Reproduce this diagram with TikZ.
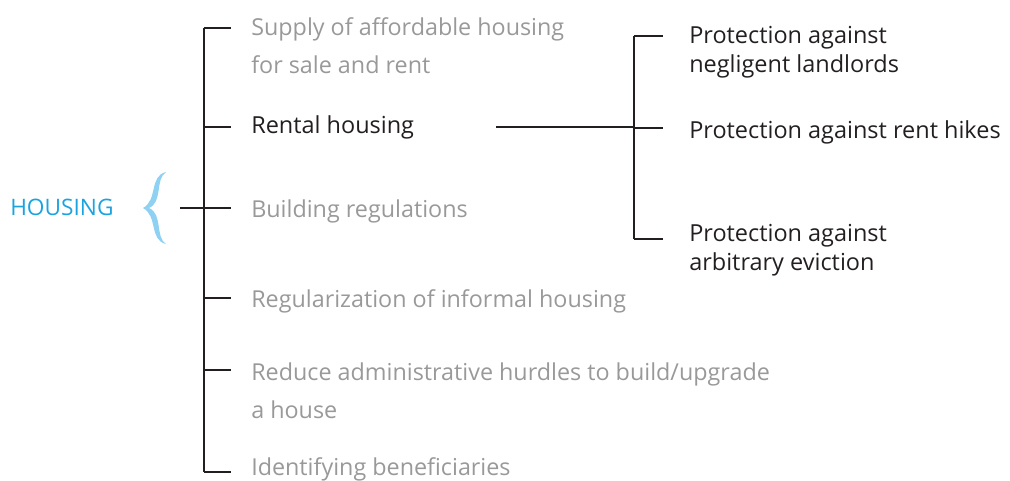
\documentclass[tikz,border=0pt]{standalone}
\usepackage{fontspec}
\setmainfont{Open Sans}
\definecolor{inkdark}{HTML}{231F20}
\definecolor{inkgray}{HTML}{999999}
\definecolor{housblue}{HTML}{1AA3E0}
\definecolor{bracelight}{HTML}{8ED1F2}
\tikzset{
  trunk/.style={draw=inkdark,line width=1.8pt},
  grayitem/.style={anchor=base west,inner sep=0pt,align=left,text=inkgray,
    font=\fontsize{17.5}{28.5}\selectfont},
  darkitem/.style={anchor=base west,inner sep=0pt,align=left,text=inkdark,
    font=\fontsize{17.6}{21.75}\selectfont}
}

\begin{document}
\begin{tikzpicture}[x=0.75pt,y=-0.75pt]
\useasboundingbox (0,0) rectangle (1010,480);
% title and brace
\node[anchor=base west,inner sep=0pt,text=housblue,font=\fontsize{17}{20}\selectfont] (housing) at (10,215) {HOUSING};
\fill[bracelight] (166,172) .. controls (149,176) and (158,200) .. (143,208)
  .. controls (158,216) and (149,240) .. (166,244)
  .. controls (155,237) and (163,214) .. (149,208)
  .. controls (163,202) and (155,179) .. (166,172) -- cycle;
% main trunk
\coordinate (stem) at (180,208);
\coordinate (ttop) at (204,28);
\coordinate (tbot) at (204,472);
\draw[trunk] (ttop) -- (tbot);
\draw[trunk] (stem) -- (231,208);
\foreach \y [count=\i] in {28,127,208,298,370,472}{
  \coordinate (t\i) at (204,\y);
  \coordinate (b\i) at (231,\y);
  \draw[trunk] (t\i) -- (b\i);
}
% first level items (base = last line)
\node[grayitem] (supply) at (251,73) {Supply of affordable housing\\for sale and rent};
\node[darkitem] (rental) at (251,133) {Rental housing};
\node[grayitem] (building) at (251,217) {Building regulations};
\node[grayitem] (regular) at (251,307) {Regularization of informal housing};
\node[grayitem] (reduce) at (251,418) {Reduce administrative hurdles to build/upgrade\\a house};
\node[grayitem] (identify) at (251,475) {Identifying beneficiaries};
% rental housing branch
\coordinate (rstart) at (496,127);
\coordinate (rtop) at (634,36);
\coordinate (rbot) at (634,239);
\draw[trunk] (rstart) -- (634,127);
\draw[trunk] (rtop) -- (rbot);
\foreach \y [count=\i] in {36,128,239}{
  \coordinate (r\i) at (634,\y);
  \coordinate (q\i) at (663,\y);
  \draw[trunk] (r\i) -- (q\i);
}
\node[darkitem] (negligent) at (689,72) {Protection against\\negligent landlords};
\node[darkitem] (hikes) at (689,138) {Protection against rent hikes};
\node[darkitem] (eviction) at (689,270) {Protection against\\arbitrary eviction};
\end{tikzpicture}
\end{document}
